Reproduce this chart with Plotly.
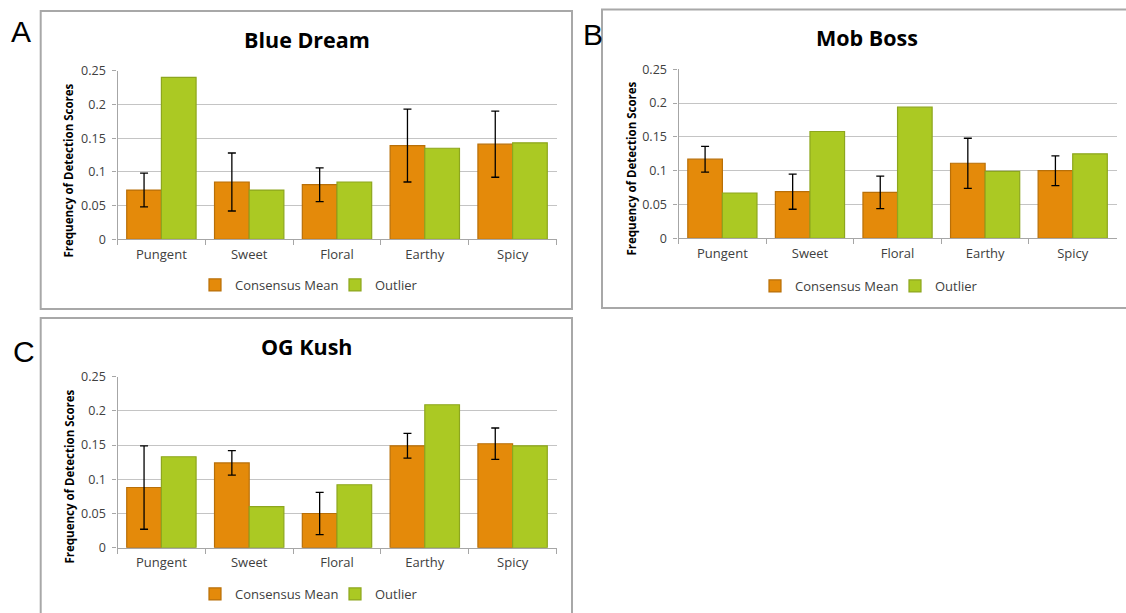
import plotly.graph_objects as go

# ---------------- data ----------------
categories = ["Pungent", "Sweet", "Floral", "Earthy", "Spicy"]
y_tick_vals = [0, 0.05, 0.1, 0.15, 0.2, 0.25]
y_tick_text = ["0", "0.05", "0.1", "0.15", "0.2", "0.25"]

blue_dream_mean = [0.073, 0.085, 0.081, 0.139, 0.141]
blue_dream_err = [0.025, 0.043, 0.025, 0.054, 0.049]
blue_dream_outlier = [0.240, 0.073, 0.085, 0.135, 0.143]

mob_boss_mean = [0.117, 0.069, 0.068, 0.111, 0.100]
mob_boss_err = [0.019, 0.026, 0.024, 0.037, 0.022]
mob_boss_outlier = [0.067, 0.158, 0.194, 0.099, 0.125]

og_kush_mean = [0.088, 0.124, 0.050, 0.149, 0.152]
og_kush_err = [0.061, 0.018, 0.031, 0.018, 0.023]
og_kush_outlier = [0.133, 0.060, 0.092, 0.209, 0.149]

series_names = ["Consensus Mean", "Outlier"]
panel_titles = ["Blue Dream", "Mob Boss", "OG Kush"]
panel_letters = ["A", "B", "C"]

# ---------------- styling / layout ----------------
W, H = 1126, 613
ORANGE, ORANGE_LINE = "#E48A0A", "#B86F08"
GREEN, GREEN_LINE = "#ABC923", "#8DA61E"
GRID = "#C4C4C4"
AXIS = "#A6A6A6"
TXT = "#404040"
FONT = "Open Sans"


def px(x):
    return x / W


def py(y):
    return 1 - y / H


panels = [
    dict(mean=blue_dream_mean, err=blue_dream_err, out=blue_dream_outlier,
         plot=(117.5, 556.5, 70.7, 239.3), box=(40.7, 572, 11, 309),
         title_xy=(307, 39), ytitle_xy=(68.5, 171), legend_xy=(195, 285),
         letter_xy=(9, 31.5)),
    dict(mean=mob_boss_mean, err=mob_boss_err, out=mob_boss_outlier,
         plot=(678.6, 1116.5, 69.3, 238.3), box=(602, 1134, 9.5, 308),
         title_xy=(867, 38), ytitle_xy=(630.5, 169), legend_xy=(755, 286),
         letter_xy=(581, 34)),
    dict(mean=og_kush_mean, err=og_kush_err, out=og_kush_outlier,
         plot=(117.5, 556.5, 376.7, 547.7), box=(40.7, 572, 318, 622),
         title_xy=(307, 346), ytitle_xy=(68.5, 477), legend_xy=(195, 594),
         letter_xy=(11, 351)),
]

fig = go.Figure()
layout = dict(width=W, height=H,
              margin=dict(l=0, r=0, t=0, b=0, pad=0, autoexpand=False),
              paper_bgcolor="white", plot_bgcolor="white",
              barmode="group", bargap=0.21, bargroupgap=0.0,
              font=dict(family=FONT, color=TXT, size=12),
              annotations=[], shapes=[])

for i, p in enumerate(panels):
    k = "" if i == 0 else str(i + 1)
    xa, ya = "x" + k, "y" + k
    leg = "legend" + k
    fig.add_trace(go.Bar(
        x=categories, y=p["mean"], name=series_names[0],
        xaxis=xa, yaxis=ya, legend=leg,
        marker=dict(color=ORANGE, line=dict(color=ORANGE_LINE, width=1.2)),
        error_y=dict(type="data", array=p["err"], visible=True,
                     color="black", thickness=1.3, width=4),
    ))
    fig.add_trace(go.Bar(
        x=categories, y=p["out"], name=series_names[1],
        xaxis=xa, yaxis=ya, legend=leg,
        marker=dict(color=GREEN, line=dict(color=GREEN_LINE, width=1.2)),
    ))
    x0, x1, y0, y1 = p["plot"]
    layout["xaxis" + k] = dict(
        domain=[px(x0), px(x1)], anchor=ya, type="category",
        showline=True, linecolor=AXIS, linewidth=1.3,
        ticks="outside", tickson="boundaries", ticklen=5, tickcolor=AXIS,
        showgrid=False, tickfont=dict(size=13, color=TXT, family=FONT),
        ticklabelstandoff=3, fixedrange=True, automargin=False,
    )
    layout["yaxis" + k] = dict(
        domain=[py(y1), py(y0)], anchor=xa, range=[0, 0.25],
        tickvals=y_tick_vals, ticktext=y_tick_text,
        showgrid=True, gridcolor=GRID, gridwidth=1.3, zeroline=False,
        showline=True, linecolor=AXIS, linewidth=1.3,
        ticks="outside", ticklen=4, tickcolor=AXIS,
        tickfont=dict(size=12.5, color=TXT, family=FONT),
        ticklabelstandoff=4, fixedrange=True, automargin=False,
    )
    lx, ly = p["legend_xy"]
    layout[leg] = dict(
        orientation="h", x=px(lx), y=py(ly), xanchor="left", yanchor="middle",
        font=dict(size=13, color=TXT, family=FONT),
        bgcolor="rgba(0,0,0,0)", itemwidth=30, traceorder="normal",
        entrywidth=95, entrywidthmode="pixels",
    )
    bx0, bx1, by0, by1 = p["box"]
    layout["shapes"].append(dict(
        type="rect", xref="paper", yref="paper",
        x0=px(bx0), x1=px(bx1), y0=py(by1), y1=py(by0),
        line=dict(color="#A8A8A8", width=2), layer="below",
    ))
    tx, ty = p["title_xy"]
    layout["annotations"].append(dict(
        text="<b>%s</b>" % panel_titles[i], xref="paper", yref="paper",
        x=px(tx), y=py(ty), xanchor="center", yanchor="middle",
        showarrow=False, font=dict(size=21.5, color="black", family=FONT),
    ))
    ax, ay = p["ytitle_xy"]
    layout["annotations"].append(dict(
        text="<b>Frequency of Detection Scores</b>", xref="paper", yref="paper",
        x=px(ax), y=py(ay), xanchor="center", yanchor="middle", textangle=-90,
        showarrow=False, font=dict(size=11.5, color="black", family=FONT),
    ))
    lx2, ly2 = p["letter_xy"]
    layout["annotations"].append(dict(
        text=panel_letters[i], xref="paper", yref="paper",
        x=px(lx2), y=py(ly2), xanchor="left", yanchor="middle",
        showarrow=False,
        font=dict(size=30, color="black", family="Liberation Sans"),
    ))

fig.update_layout(**layout)
fig.write_html(
    "out.html",
    config={"displayModeBar": False},
    post_script="document.body.style.margin='0';document.body.style.overflow='hidden';",
)
